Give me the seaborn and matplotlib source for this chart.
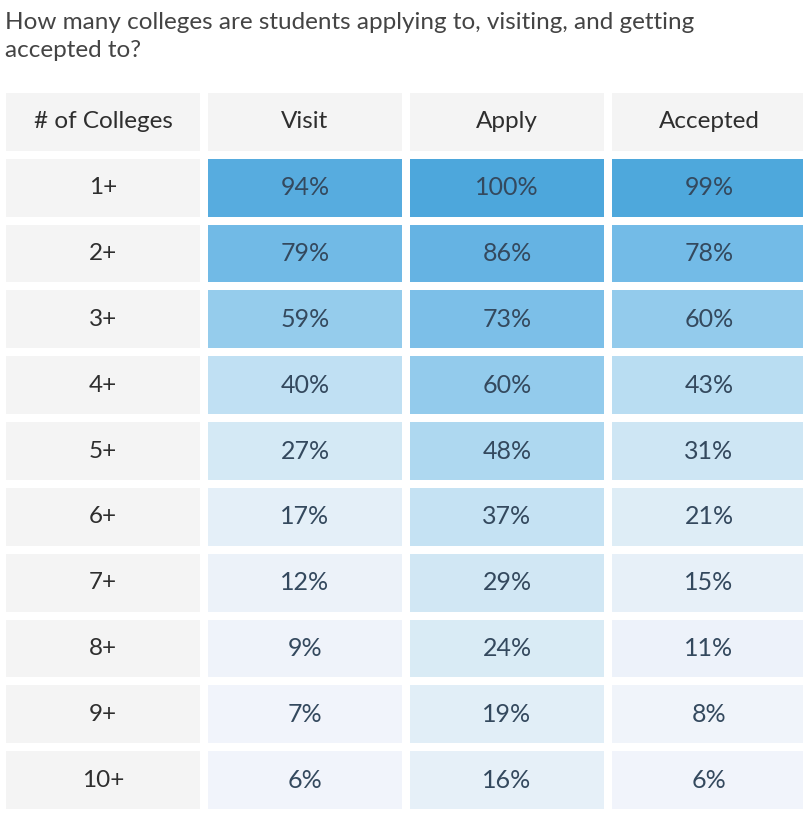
import numpy as np
import pandas as pd
import matplotlib
matplotlib.use("Agg")
import matplotlib.pyplot as plt
import seaborn as sns
from matplotlib.colors import LinearSegmentedColormap, ListedColormap

title = "How many colleges are students applying to, visiting, and getting\naccepted to?"
row_labels = ["1+", "2+", "3+", "4+", "5+", "6+", "7+", "8+", "9+", "10+"]
col_labels = ["Visit", "Apply", "Accepted"]
corner_label = "# of Colleges"
visit = [94, 79, 59, 40, 27, 17, 12, 9, 7, 6]
apply_ = [100, 86, 73, 60, 48, 37, 29, 24, 19, 16]
accepted = [99, 78, 60, 43, 31, 21, 15, 11, 8, 6]

sns.set_theme(style="white")
plt.rcParams["font.family"] = ["Lato", "DejaVu Sans"]

# full 11 x 4 grid: header row + label column are grey cells, the rest is the heat table
n_rows = len(row_labels) + 1
n_cols = len(col_labels) + 1
values = np.full((n_rows, n_cols), np.nan)
values[1:, 1] = visit
values[1:, 2] = apply_
values[1:, 3] = accepted
grid = pd.DataFrame(values)

pct_annot = np.full((n_rows, n_cols), "", dtype=object)
for i in range(1, n_rows):
    for j in range(1, n_cols):
        pct_annot[i, j] = f"{values[i, j]:.0f}%"

grey_vals = np.where(np.isnan(values), 0.0, np.nan)
grey_annot = np.full((n_rows, n_cols), "", dtype=object)
grey_annot[0, 0] = corner_label
grey_annot[0, 1:] = col_labels
grey_annot[1:, 0] = row_labels

blues = LinearSegmentedColormap.from_list(
    "tbl",
    [(0.0, "#f4f6fc"), (0.10, "#eff3fa"), (0.25, "#d7eaf5"), (0.40, "#c0e0f3"),
     (0.60, "#93cbec"), (0.80, "#70b9e6"), (1.0, "#4da7dc")],
)

fig = plt.figure(figsize=(8.04, 8.13), dpi=100)
ax = fig.add_axes([2 / 804, 0, 808 / 804, 724 / 813])

gap = 8 * 72 / 100
sns.heatmap(pd.DataFrame(grey_vals), ax=ax, cmap=ListedColormap(["#f4f4f4"]),
            vmin=0, vmax=1, cbar=False, linewidths=gap, linecolor="white",
            annot=grey_annot, fmt="", annot_kws={"fontsize": 17.5, "color": "#2e2e2e"})
sns.heatmap(grid, ax=ax, cmap=blues, vmin=0, vmax=100, cbar=False,
            linewidths=gap, linecolor="white",
            annot=pct_annot, fmt="", annot_kws={"fontsize": 18, "color": "#34495e"})

ax.set_xticks([])
ax.set_yticks([])
ax.set_xlabel("")
ax.set_ylabel("")

fig.text(5 / 804, 1 - 12 / 813, title, ha="left", va="top", fontsize=17.5,
         color="#444444", linespacing=1.4)

fig.savefig("out.png", dpi=100, facecolor="white")
